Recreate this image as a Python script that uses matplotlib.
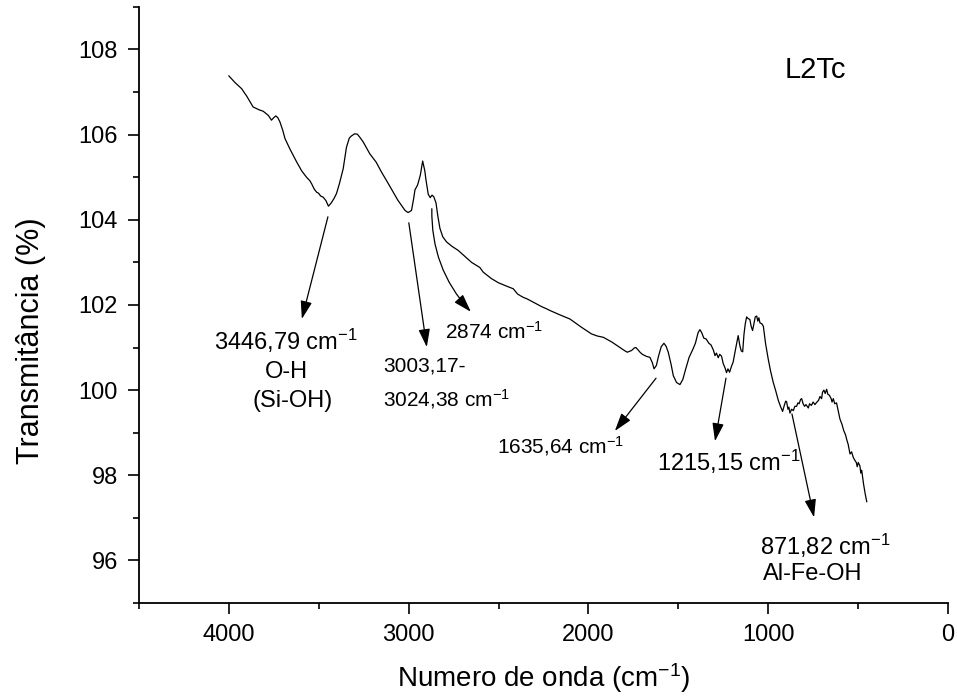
import matplotlib
matplotlib.use("Agg")
import matplotlib.pyplot as plt
from matplotlib.ticker import MultipleLocator

plt.rcParams['font.family'] = ['Liberation Sans', 'DejaVu Sans']
plt.rcParams['mathtext.default'] = 'regular'

# espectro FTIR L2Tc
numero_onda = [4000, 3965, 3929, 3900, 3865, 3830, 3809, 3780, 3763, 3750, 3739, 3728, 3716, 3700,
               3688, 3660, 3623, 3595, 3568, 3550, 3540, 3525, 3512, 3500, 3490, 3475, 3460, 3446,
               3430, 3415, 3401, 3385, 3364, 3346, 3330, 3318, 3300, 3285, 3270, 3253, 3216, 3180,
               3151, 3120, 3086, 3060, 3040, 3020, 3003, 2984, 2972, 2965, 2950, 2935, 2922, 2910,
               2904, 2891, 2880, 2870, 2860, 2848, 2838, 2826, 2810, 2789, 2760, 2724, 2690, 2650,
               2604, 2585, 2540, 2500, 2460, 2418, 2395, 2380, 2363, 2340, 2300, 2260, 2233, 2214,
               2160, 2103, 2040, 1983, 1950, 1917, 1870, 1825, 1800, 1784, 1760, 1745, 1736, 1725,
               1713, 1700, 1676, 1658, 1645, 1635, 1622, 1610, 1595, 1580, 1568, 1556, 1540, 1528,
               1510, 1491, 1475, 1460, 1440, 1420, 1405, 1390, 1380, 1370, 1358, 1345, 1330, 1318,
               1305, 1296, 1288, 1278, 1270, 1260, 1250, 1240, 1232, 1224, 1215, 1205, 1195, 1180,
               1167, 1158, 1150, 1142, 1135, 1128, 1120, 1112, 1102, 1095, 1087, 1080, 1072, 1064,
               1058, 1052, 1046, 1036, 1027, 1015, 1000, 987, 972, 958, 944, 932, 920, 910, 903,
               898, 890, 885, 879, 870, 860, 852, 842, 835, 828, 820, 814, 806, 798, 790, 777, 770,
               760, 750, 740, 731, 720, 712, 703, 698, 690, 683, 675, 668, 660, 650, 645, 638, 630,
               620, 610, 601, 590, 580, 570, 564, 555, 545, 536, 527, 518, 510, 505, 499, 490, 485,
               480, 470, 460, 452]
transmitancia = [107.38, 107.22, 107.08, 106.90, 106.65, 106.58, 106.55, 106.45, 106.34, 106.40,
                 106.44, 106.40, 106.30, 106.10, 105.91, 105.66, 105.36, 105.15, 105.00, 104.92,
                 104.85, 104.72, 104.65, 104.62, 104.56, 104.53, 104.45, 104.32, 104.40, 104.50,
                 104.62, 104.85, 105.20, 105.70, 105.92, 105.97, 106.02, 106.01, 105.93, 105.83,
                 105.55, 105.35, 105.12, 104.90, 104.65, 104.46, 104.34, 104.22, 104.17, 104.22,
                 104.50, 104.70, 104.82, 105.05, 105.38, 105.15, 104.95, 104.60, 104.52, 104.58,
                 104.54, 104.40, 104.10, 103.80, 103.60, 103.48, 103.38, 103.28, 103.15, 103.00,
                 102.88, 102.77, 102.62, 102.52, 102.45, 102.38, 102.26, 102.22, 102.18, 102.14,
                 102.05, 101.96, 101.91, 101.87, 101.77, 101.67, 101.48, 101.32, 101.27, 101.24,
                 101.13, 101.00, 100.93, 100.89, 100.93, 100.99, 101.00, 100.95, 100.89, 100.84,
                 100.79, 100.77, 100.65, 100.50, 100.58, 100.80, 101.02, 101.10, 101.03, 100.89,
                 100.60, 100.34, 100.18, 100.13, 100.25, 100.48, 100.77, 100.95, 101.10, 101.35,
                 101.42, 101.35, 101.22, 101.20, 101.10, 101.06, 100.94, 100.81, 100.87, 100.76,
                 100.84, 100.80, 100.62, 100.52, 100.41, 100.50, 100.42, 100.55, 100.66, 101.00,
                 101.28, 101.05, 100.92, 100.90, 101.30, 101.55, 101.72, 101.68, 101.66, 101.50,
                 101.40, 101.55, 101.72, 101.74, 101.62, 101.70, 101.58, 101.56, 101.50, 101.10,
                 100.73, 100.45, 100.18, 99.98, 99.76, 99.62, 99.50, 99.65, 99.74, 99.73, 99.55,
                 99.60, 99.46, 99.55, 99.52, 99.62, 99.62, 99.70, 99.68, 99.78, 99.80, 99.68,
                 99.62, 99.66, 99.58, 99.68, 99.64, 99.72, 99.66, 99.71, 99.76, 99.85, 99.80,
                 99.95, 100.00, 99.92, 100.02, 99.90, 99.88, 99.80, 99.72, 99.80, 99.68, 99.70,
                 99.50, 99.32, 99.20, 99.05, 98.95, 98.85, 98.72, 98.50, 98.55, 98.42, 98.35,
                 98.30, 98.20, 98.30, 98.22, 98.05, 98.12, 97.80, 97.55, 97.38]

# setas: (inicio, ponta, curvatura)
setas = [((3449, 104.07), (3594, 101.67), 0.0),
         ((2999, 103.93), (2899, 101.01), 0.0),
         ((2871, 104.26), (2654, 101.84), 0.2),
         ((1624, 100.28), (1853, 99.04), 0.0),
         ((1235, 100.28), (1296, 98.80), 0.0),
         ((868, 99.44), (745, 97.01), 0.0)]

# textos: (x, y, texto, tamanho, alinhamento)
textos = [(3683, 101.15, '3446,79 cm$^{-1}$', 17, 'center'),
          (3677, 100.42, 'O-H', 17, 'center'),
          (3644, 99.74, '(Si-OH)', 17, 'center'),
          (3143, 100.56, '3003,17-', 15, 'left'),
          (3143, 99.79, '3024,38 cm$^{-1}$', 15, 'left'),
          (2798, 101.36, '2874 cm$^{-1}$', 15, 'left'),
          (2509, 98.68, '1635,64 cm$^{-1}$', 15, 'left'),
          (1619, 98.31, '1215,15 cm$^{-1}$', 17, 'left'),
          (1046, 96.33, '871,82 cm$^{-1}$', 17, 'left'),
          (1029, 95.67, 'Al-Fe-OH', 17, 'left'),
          (907, 107.51, 'L2Tc', 21, 'left')]

fig = plt.figure(figsize=(9.57, 6.98), dpi=100)
ax = fig.add_axes([0.1452, 0.1361, 0.8454, 0.854])

ax.plot(numero_onda, transmitancia, color='black', lw=0.9)

for ini, fim, rad in setas:
    ax.annotate('', xy=fim, xytext=ini,
                arrowprops=dict(arrowstyle='-|>,head_length=1.1,head_width=0.35',
                                color='black', lw=0.9, mutation_scale=10,
                                shrinkA=0, shrinkB=0,
                                connectionstyle='arc3,rad=%s' % rad))

for x, y, t, s, ha in textos:
    ax.text(x, y, t, fontsize=s, ha=ha, va='center')

ax.set_xlim(4500, 0)
ax.set_ylim(95, 109)
ax.xaxis.set_major_locator(MultipleLocator(1000))
ax.xaxis.set_minor_locator(MultipleLocator(500))
ax.yaxis.set_major_locator(MultipleLocator(2))
ax.yaxis.set_minor_locator(MultipleLocator(1))

ax.spines['top'].set_visible(False)
ax.spines['right'].set_visible(False)
ax.spines['left'].set_linewidth(1.3)
ax.spines['bottom'].set_linewidth(1.3)
ax.tick_params(which='major', direction='out', length=8, width=1.2, labelsize=17, pad=7)
ax.tick_params(which='minor', direction='out', length=4, width=1.2)

ax.set_xlabel('Numero de onda (cm$^{-1}$)', fontsize=20, labelpad=11)
ax.set_ylabel('Transmitância (%)', fontsize=22)
ax.yaxis.set_label_coords(-0.115, 0.44)

fig.savefig('out.png', dpi=100)
